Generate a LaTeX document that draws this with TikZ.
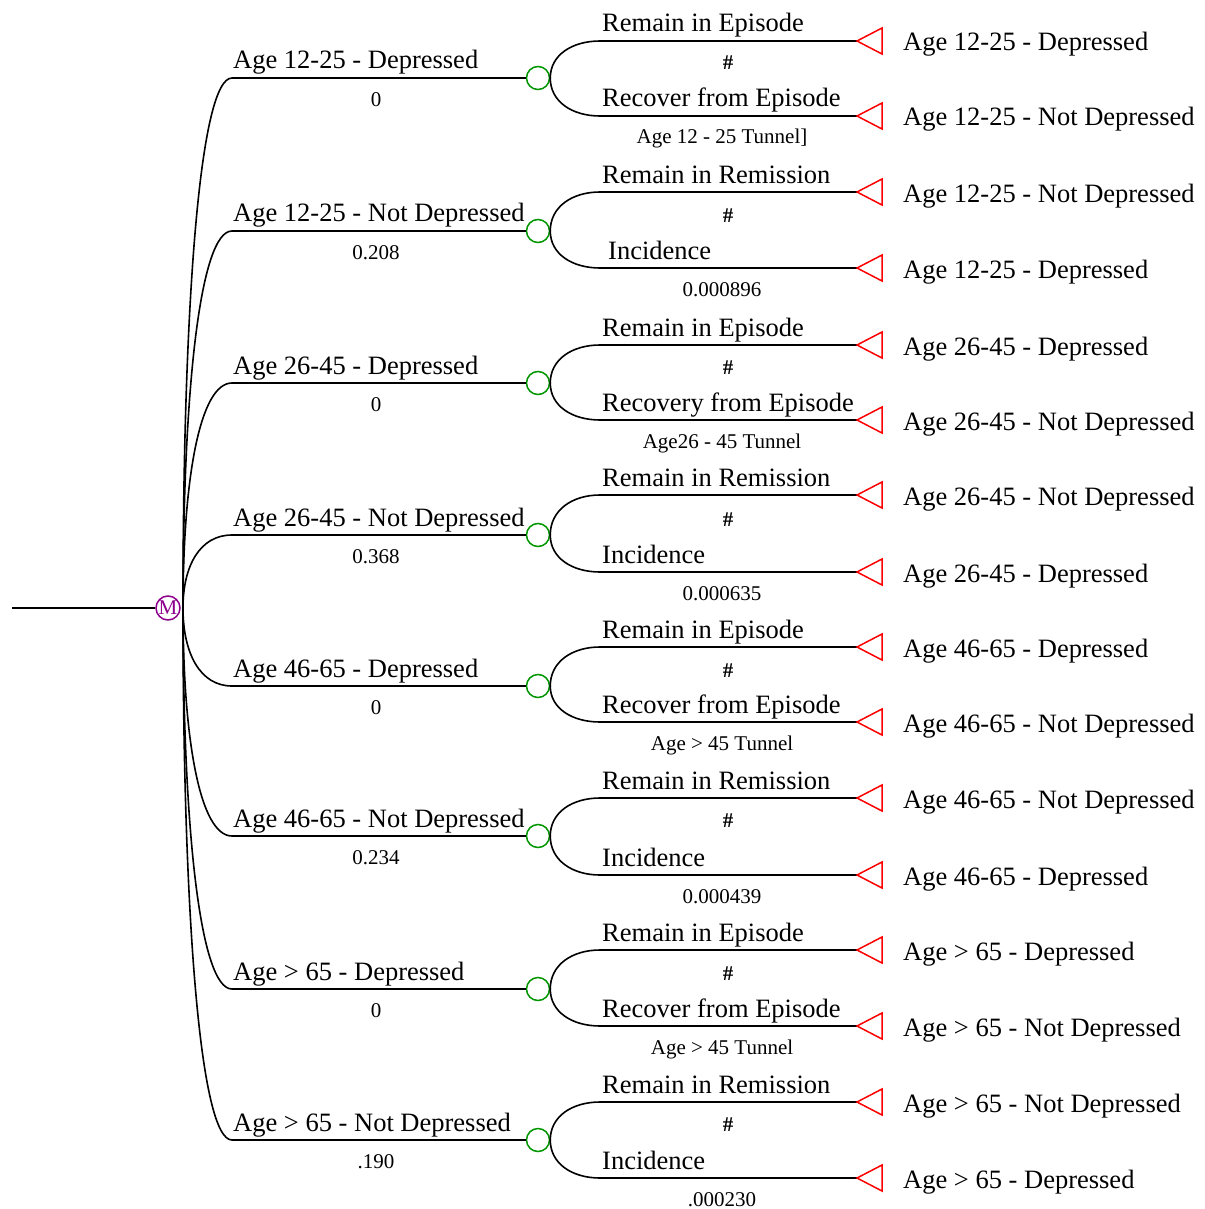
\documentclass[tikz,border=0pt]{standalone}
\usepackage{fontspec}
\setmainfont{Liberation Serif}
\definecolor{mkpurple}{RGB}{140,0,140}
\definecolor{chgreen}{RGB}{0,150,0}
\definecolor{termred}{RGB}{255,0,0}
\begin{document}
\begin{tikzpicture}[x=1pt,y=-1pt,
  branch/.style={draw=black, line width=1.6pt},
  mainlab/.style={font=\fontsize{26.5}{30}\selectfont, inner sep=0pt},
  smalllab/.style={font=\fontsize{21}{24}\selectfont, inner sep=0pt},
  chance/.style={circle, draw=chgreen, line width=1.5pt, minimum size=23pt, inner sep=0pt},
  markov/.style={circle, draw=mkpurple, line width=1.5pt, minimum size=24pt, inner sep=0pt, text=mkpurple, font=\fontsize{21}{21}\selectfont},
  term/.style={draw=termred, line width=1.5pt, line join=miter}]
\useasboundingbox (0,0) rectangle (1204,1209);
\fill[white] (0,0) rectangle (1204,1209);
% root and markov node
\coordinate (root) at (12,608);
\node[markov] (mk) at (168,608) {M};
\coordinate (fan) at (183,608);
\draw[branch] (root) -- (mk.west);
\foreach \i/\ym/\yt/\yb/\lab/\val/\sa/\sb/\sv/\ta/\tb in {
 0/78/41/116/{Age 12-25 - Depressed}/{0}/{Remain in Episode}/{Recover from Episode}/{Age 12 - 25 Tunnel]}/{Age 12-25 - Depressed}/{Age 12-25 - Not Depressed},
 1/231/192/268/{Age 12-25 - Not Depressed}/{0.208}/{Remain in Remission}/{\hspace{6pt}Incidence}/{0.000896}/{Age 12-25 - Not Depressed}/{Age 12-25 - Depressed},
 2/383/345/420/{Age 26-45 - Depressed}/{0}/{Remain in Episode}/{Recovery from Episode}/{Age26 - 45 Tunnel}/{Age 26-45 - Depressed}/{Age 26-45 - Not Depressed},
 3/535/495/572/{Age 26-45 - Not Depressed}/{0.368}/{Remain in Remission}/{Incidence}/{0.000635}/{Age 26-45 - Not Depressed}/{Age 26-45 - Depressed},
 4/686/647/722/{Age 46-65 - Depressed}/{0}/{Remain in Episode}/{Recover from Episode}/{Age > 45 Tunnel}/{Age 46-65 - Depressed}/{Age 46-65 - Not Depressed},
 5/836/798/875/{Age 46-65 - Not Depressed}/{0.234}/{Remain in Remission}/{Incidence}/{0.000439}/{Age 46-65 - Not Depressed}/{Age 46-65 - Depressed},
 6/989/950/1026/{Age > 65 - Depressed}/{0}/{Remain in Episode}/{Recover from Episode}/{Age > 45 Tunnel}/{Age > 65 - Depressed}/{Age > 65 - Not Depressed},
 7/1140/1102/1178/{Age > 65 - Not Depressed}/{.190}/{Remain in Remission}/{Incidence}/{.000230}/{Age > 65 - Not Depressed}/{Age > 65 - Depressed}}
{
  \coordinate (b\i) at (232,\ym);
  \node[chance] (c\i) at (538,\ym) {};
  \draw[branch] (fan) .. controls +(0,{0.58*(\ym-608)}) and +(-32,0) .. (b\i) -- (c\i.west);
  \node[mainlab, anchor=base west] (lab\i) at (233,{\ym-9}) {\lab};
  \node[smalllab] (val\i) at (376,{\ym+22}) {\val};
  % sub branches
  \coordinate (u\i) at (600,\yt);
  \coordinate (l\i) at (600,\yb);
  \coordinate (ta\i) at (857,\yt);
  \coordinate (tb\i) at (857,\yb);
  \draw[branch] (c\i.east) .. controls +(0,{0.62*(\yt-\ym)}) and +(-28,0) .. (u\i) -- (ta\i);
  \draw[branch] (c\i.east) .. controls +(0,{0.62*(\yb-\ym)}) and +(-28,0) .. (l\i) -- (tb\i);
  \draw[term] (ta\i) -- ++(25,-13) -- ++(0,26) -- cycle;
  \draw[term] (tb\i) -- ++(25,-13) -- ++(0,26) -- cycle;
  \node[mainlab, anchor=base west] (sa\i) at (602,{\yt-9}) {\sa};
  \node[mainlab, anchor=base west] (sb\i) at (602,{\yb-9}) {\sb};
  \node[smalllab, font=\fontsize{21}{24}\selectfont\bfseries] (h\i) at (728,{\ym-15}) {\#};
  \node[smalllab, anchor=base] (sv\i) at (722,{\yb+28}) {\sv};
  \node[mainlab, anchor=base west] (na\i) at (903,{\yt+10}) {\ta};
  \node[mainlab, anchor=base west] (nb\i) at (903,{\yb+10}) {\tb};
}
\end{tikzpicture}
\end{document}
